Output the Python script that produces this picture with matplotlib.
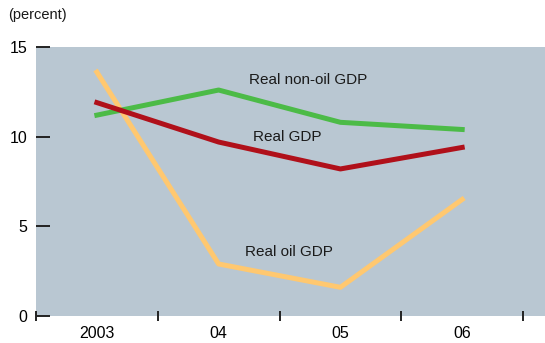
import matplotlib.pyplot as plt

# Data
years = ['2003', '04', '05', '06']
real_gdp = [11.9, 9.7, 8.2, 9.4]
real_non_oil_gdp = [11.2, 12.6, 10.8, 10.4]
real_oil_gdp = [13.6, 2.9, 1.6, 6.5]

plt.rcParams['font.family'] = ['Liberation Sans', 'DejaVu Sans']

fig = plt.figure(figsize=(5.45, 3.43), dpi=100)
ax = fig.add_axes([0.066, 0.0787, 0.934, 0.7843])
ax.set_facecolor('#b9c7d2')

x = list(range(len(years)))
ax.plot(x, real_oil_gdp, color='#ffc870', linewidth=3.6)
ax.plot(x, real_non_oil_gdp, color='#4cbb47', linewidth=3.6)
ax.plot(x, real_gdp, color='#b0101a', linewidth=3.6)

ax.text(1.25, 13.15, 'Real non-oil GDP', fontsize=11, color='#1a1a1a', va='center')
ax.text(1.28, 10.0, 'Real GDP', fontsize=11, color='#1a1a1a', va='center')
ax.text(1.22, 3.55, 'Real oil GDP', fontsize=11, color='#1a1a1a', va='center')

ax.set_xlim(-0.5, 3.68)
ax.set_ylim(0, 15)
ax.set_yticks([0, 5, 10, 15])
ax.set_xticks([-0.5, 0.5, 1.5, 2.5, 3.5])
ax.set_xticklabels([])
ax.set_xticks(x, minor=True)
ax.set_xticklabels(years, minor=True, fontsize=11.5)
ax.tick_params(axis='x', which='minor', length=0, pad=7)
ax.tick_params(axis='x', which='major', direction='inout', length=6.5, width=1.4,
               color='#222222')
ax.tick_params(axis='y', direction='in', length=10, width=1.4, color='#222222',
               labelsize=11.5, pad=6)

for s in ax.spines.values():
    s.set_visible(False)

fig.text(0.014, 0.956, '(percent)', fontsize=10.5, color='#1a1a1a', va='center')

plt.savefig('out.png', dpi=100)
